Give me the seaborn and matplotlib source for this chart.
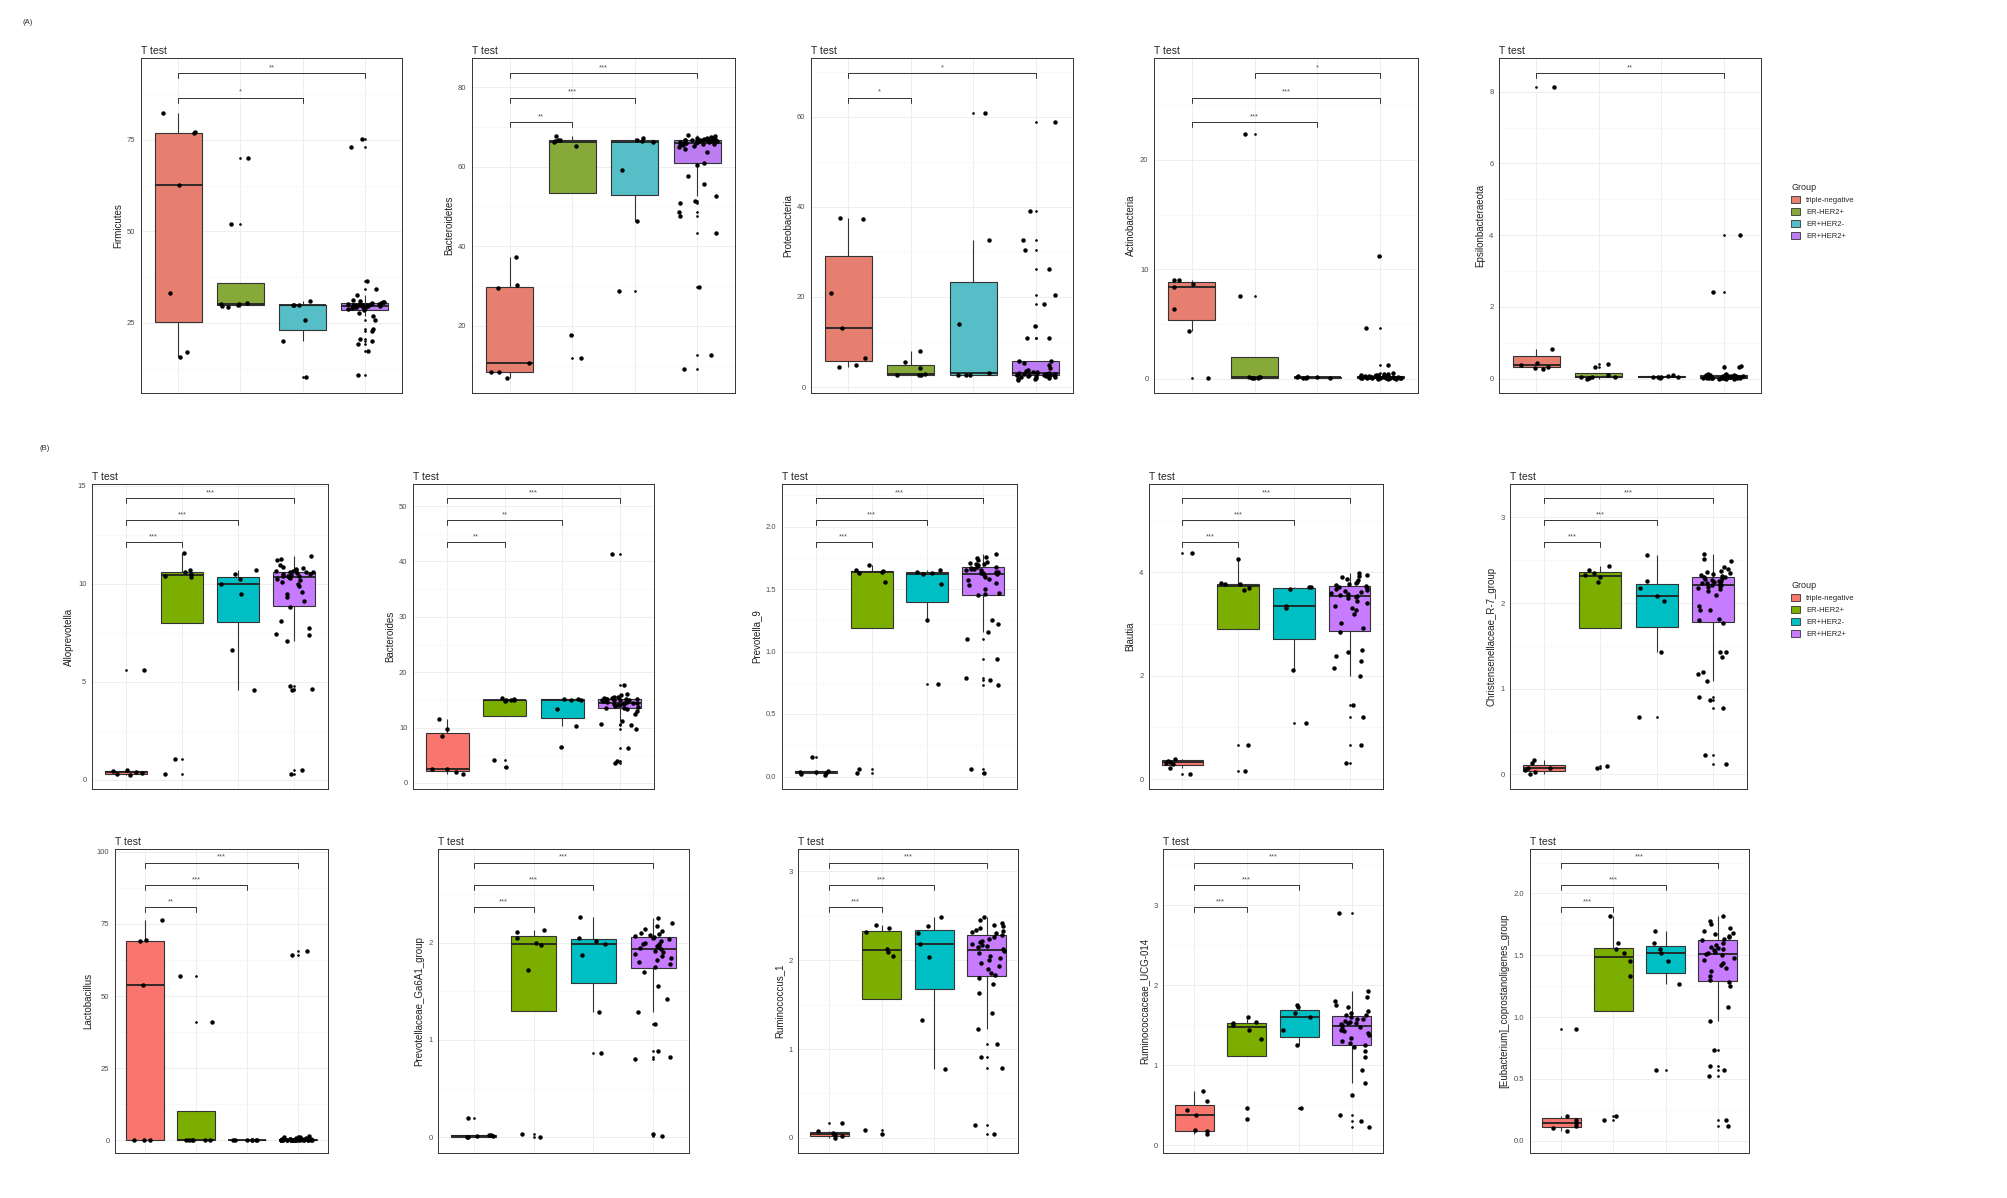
import numpy as np
import pandas as pd
import matplotlib
matplotlib.use('Agg')
import matplotlib.pyplot as plt
from matplotlib.patches import Patch
from matplotlib.ticker import AutoMinorLocator
import seaborn as sns

groups = ['triple-negative', 'ER-HER2+', 'ER+HER2-', 'ER+HER2+']

# (A) Phylum-Ebene: je Taxon (triple-negative, ER-HER2+, ER+HER2-, ER+HER2+)
firmicutes = (
    [15.6, 17.1, 33.2, 62.7, 76.8, 77.0, 82.3],
    [29.5, 29.7, 29.9, 30.1, 30.3, 30.5, 52.1, 70.0],
    [10.2, 20.2, 25.9, 29.9, 29.9, 30.0, 30.9],
    [75.3, 73.1, 36.4, 34.4, 32.7, 31.2, 30.9, 30.8, 30.6, 30.5, 30.4, 30.3, 30.3, 30.2,
     30.1, 30.0, 30.0, 29.9, 29.9, 29.8, 29.8, 29.7, 29.7, 29.6, 29.6, 29.5, 29.5, 29.4,
     29.3, 29.2, 29.0, 28.8, 28.5, 27.6, 26.8, 25.7, 23.4, 22.7, 20.6, 20.2, 19.3, 17.3, 10.9])
bacteroidetes = (
    [6.9, 8.4, 8.4, 10.7, 29.4, 30.3, 37.2],
    [11.9, 17.8, 65.3, 66.2, 66.4, 66.6, 66.8, 67.6],
    [28.7, 46.4, 59.2, 66.1, 66.4, 66.8, 67.2],
    [68.0, 67.6, 67.4, 67.3, 67.2, 67.1, 67.0, 66.9, 66.9, 66.8, 66.8, 66.7, 66.7, 66.6,
     66.6, 66.5, 66.5, 66.4, 66.4, 66.3, 66.3, 66.2, 66.2, 66.1, 66.0, 66.0, 65.9, 65.8,
     65.7, 65.6, 65.4, 65.2, 65.0, 64.5, 63.7, 61.0, 60.3, 57.7, 55.6, 52.5, 51.3, 50.8,
     48.7, 47.5, 43.3, 29.8, 12.6, 9.2])
proteobacteria = (
    [4.4, 5.0, 6.4, 13.2, 20.9, 37.3, 37.6],
    [2.6, 2.6, 2.7, 2.9, 4.2, 5.6, 8.0],
    [2.6, 2.6, 2.6, 3.1, 14.1, 32.7, 60.7],
    [58.9, 39.0, 32.7, 30.4, 26.1, 20.5, 18.4, 13.5, 11.0, 11.0, 5.9, 5.8, 5.4, 4.8, 4.2,
     3.8, 3.5, 3.4, 3.3, 3.2, 3.1, 3.1, 3.0, 3.0, 2.9, 2.9, 2.8, 2.8, 2.7, 2.7, 2.6, 2.6,
     2.5, 2.5, 2.4, 2.3, 2.2, 2.1, 2.0, 1.9, 1.8, 1.6])
actinobacteria = (
    [0.06, 4.4, 6.4, 8.4, 8.7, 9.0, 9.0],
    [0.05, 0.06, 0.1, 0.12, 0.15, 0.16, 7.6, 22.4],
    [0.05, 0.08, 0.1, 0.12, 0.14, 0.2, 0.25],
    [11.2, 4.6, 1.3, 0.55, 0.45, 0.4, 0.35, 0.3, 0.3, 0.28, 0.25, 0.25, 0.22, 0.2, 0.2,
     0.2, 0.18, 0.18, 0.17, 0.15, 0.15, 0.15, 0.14, 0.13, 0.12, 0.12, 0.11, 0.1, 0.1, 0.1,
     0.09, 0.08, 0.08, 0.07, 0.06, 0.05, 0.05, 0.04, 0.03, 0.02, 0.02, 0.01])
epsilonbacteraeota = (
    [0.28, 0.30, 0.33, 0.37, 0.45, 0.84, 8.12],
    [0.0, 0.02, 0.04, 0.05, 0.06, 0.09, 0.33, 0.42],
    [0.02, 0.04, 0.05, 0.05, 0.06, 0.08, 0.1],
    [4.0, 2.42, 0.34, 0.33, 0.32, 0.13, 0.12, 0.11, 0.1, 0.1, 0.09, 0.09, 0.08, 0.08, 0.07,
     0.07, 0.07, 0.06, 0.06, 0.06, 0.05, 0.05, 0.05, 0.05, 0.04, 0.04, 0.04, 0.04, 0.03,
     0.03, 0.03, 0.03, 0.02, 0.02, 0.02, 0.02, 0.01, 0.01, 0.01, 0.0, 0.0, 0.0])

# (B) Gattungs-Ebene
alloprevotella = (
    [0.25, 0.27, 0.33, 0.38, 0.44, 0.48, 5.6],
    [0.3, 1.05, 10.35, 10.4, 10.5, 10.6, 10.7, 11.6],
    [4.6, 6.6, 9.5, 10.0, 10.24, 10.5, 10.7],
    [11.4, 11.26, 11.2, 10.97, 10.85, 10.8, 10.75, 10.7, 10.68, 10.65, 10.62, 10.6, 10.58,
     10.55, 10.5, 10.48, 10.45, 10.42, 10.4, 10.38, 10.35, 10.3, 10.25, 10.2, 10.1, 10.0,
     9.9, 9.56, 9.5, 9.35, 9.1, 8.8, 8.08, 7.74, 7.45, 7.4, 7.06, 4.76, 4.63, 4.6, 0.51, 0.29])
bacteroides = (
    [1.6, 1.9, 2.5, 2.6, 8.4, 9.7, 11.6],
    [2.8, 4.2, 14.8, 14.95, 15.0, 15.05, 15.1, 15.4],
    [6.4, 10.2, 13.3, 15.0, 15.05, 15.1, 15.2],
    [41.4, 17.7, 16.0, 15.8, 15.6, 15.5, 15.4, 15.3, 15.2, 15.2, 15.1, 15.1, 15.0, 15.0,
     14.9, 14.9, 14.8, 14.7, 14.6, 14.5, 14.5, 14.4, 14.3, 14.2, 14.1, 14.0, 13.9, 13.8,
     13.6, 13.5, 13.3, 13.0, 12.4, 11.2, 10.7, 10.4, 9.7, 6.3, 3.9, 3.6])
prevotella_9 = (
    [0.01, 0.02, 0.03, 0.035, 0.04, 0.045, 0.16],
    [0.03, 0.06, 1.56, 1.63, 1.64, 1.645, 1.65, 1.69],
    [0.74, 1.25, 1.54, 1.62, 1.63, 1.635, 1.65],
    [1.78, 1.76, 1.75, 1.73, 1.72, 1.71, 1.7, 1.7, 1.69, 1.68, 1.68, 1.67, 1.66, 1.66,
     1.65, 1.65, 1.64, 1.64, 1.63, 1.63, 1.62, 1.61, 1.6, 1.58, 1.57, 1.55, 1.53, 1.5,
     1.47, 1.46, 1.45, 1.25, 1.22, 1.16, 1.10, 0.94, 0.79, 0.77, 0.73, 0.06, 0.03])
blautia = (
    [0.10, 0.21, 0.30, 0.32, 0.33, 0.35, 0.40, 4.37],
    [0.15, 0.67, 3.66, 3.69, 3.77, 3.78, 3.80, 4.25],
    [1.09, 2.11, 3.31, 3.35, 3.68, 3.72, 3.72],
    [3.98, 3.95, 3.93, 3.91, 3.88, 3.85, 3.82, 3.79, 3.77, 3.75, 3.73, 3.72, 3.7, 3.68,
     3.66, 3.64, 3.62, 3.6, 3.58, 3.56, 3.55, 3.53, 3.5, 3.45, 3.4, 3.35, 3.32, 3.28, 3.2,
     3.02, 2.92, 2.84, 2.5, 2.46, 2.38, 2.29, 2.15, 1.99, 1.43, 1.21, 0.66, 0.32])
christensenellaceae = (
    [0.0, 0.03, 0.05, 0.07, 0.08, 0.13, 0.17],
    [0.08, 0.10, 2.25, 2.30, 2.33, 2.35, 2.39, 2.43],
    [0.67, 1.43, 2.02, 2.08, 2.18, 2.26, 2.56],
    [2.57, 2.52, 2.49, 2.42, 2.40, 2.38, 2.36, 2.35, 2.34, 2.33, 2.32, 2.31, 2.30, 2.29,
     2.28, 2.27, 2.26, 2.26, 2.25, 2.24, 2.23, 2.22, 2.21, 2.21, 2.2, 2.19, 2.18, 2.16,
     2.14, 2.1, 1.97, 1.92, 1.92, 1.82, 1.8, 1.77, 1.43, 1.43, 1.37, 1.20, 1.17, 1.09,
     0.90, 0.87, 0.78, 0.23, 0.12])
lactobacillus = (
    [0.0, 0.0, 0.0, 54.0, 69.0, 69.3, 76.4],
    [0.0, 0.0, 0.0, 0.0, 0.0, 0.1, 41.0, 57.0],
    [0.0, 0.0, 0.0, 0.0, 0.0, 0.0, 0.0],
    [65.8, 64.4, 1.5, 1.2, 1.0, 0.9, 0.8, 0.7, 0.6, 0.5, 0.5, 0.4, 0.4, 0.3, 0.3, 0.3, 0.2,
     0.2, 0.2, 0.2, 0.1, 0.1, 0.1, 0.1, 0.1, 0.05, 0.05, 0.05, 0.05, 0.0, 0.0, 0.0, 0.0,
     0.0, 0.0, 0.0, 0.0, 0.0, 0.0, 0.0])
prevotellaceae_ga6a1 = (
    [0.0, 0.0, 0.01, 0.01, 0.02, 0.02, 0.2],
    [0.0, 0.04, 1.72, 1.97, 2.0, 2.05, 2.11, 2.13],
    [0.87, 1.29, 1.87, 1.99, 2.02, 2.05, 2.26],
    [2.25, 2.2, 2.17, 2.14, 2.12, 2.1, 2.09, 2.08, 2.07, 2.06, 2.05, 2.04, 2.02, 2.0, 1.99,
     1.98, 1.97, 1.96, 1.95, 1.94, 1.93, 1.91, 1.9, 1.88, 1.86, 1.84, 1.82, 1.8, 1.78, 1.75,
     1.7, 1.55, 1.42, 1.29, 1.16, 0.89, 0.83, 0.8, 0.03, 0.01])
ruminococcus_1 = (
    [0.0, 0.02, 0.03, 0.04, 0.06, 0.08, 0.17],
    [0.04, 0.09, 2.05, 2.09, 2.13, 2.32, 2.36, 2.4],
    [0.77, 1.33, 2.03, 2.18, 2.30, 2.38, 2.48],
    [2.48, 2.45, 2.42, 2.4, 2.38, 2.36, 2.34, 2.33, 2.32, 2.3, 2.28, 2.26, 2.24, 2.22, 2.2,
     2.18, 2.17, 2.16, 2.15, 2.13, 2.1, 2.08, 2.05, 2.02, 2.0, 1.97, 1.93, 1.9, 1.86, 1.83,
     1.8, 1.73, 1.63, 1.41, 1.23, 1.06, 0.91, 0.79, 0.14, 0.04])
ruminococcaceae_ucg014 = (
    [0.14, 0.17, 0.19, 0.38, 0.44, 0.55, 0.67],
    [0.33, 0.46, 1.33, 1.44, 1.5, 1.52, 1.54, 1.6],
    [0.46, 1.25, 1.44, 1.6, 1.65, 1.72, 1.75],
    [2.9, 1.92, 1.85, 1.8, 1.75, 1.72, 1.68, 1.65, 1.63, 1.62, 1.6, 1.58, 1.57, 1.55, 1.54,
     1.53, 1.52, 1.51, 1.5, 1.48, 1.46, 1.44, 1.42, 1.4, 1.37, 1.34, 1.3, 1.27, 1.25, 1.22,
     1.18, 1.1, 0.94, 0.78, 0.62, 0.38, 0.3, 0.22])
eubacterium_copro = (
    [0.08, 0.1, 0.12, 0.14, 0.17, 0.2, 0.9],
    [0.17, 0.2, 1.33, 1.45, 1.52, 1.55, 1.6, 1.82],
    [0.57, 1.27, 1.45, 1.52, 1.55, 1.6, 1.7],
    [1.82, 1.78, 1.75, 1.72, 1.7, 1.68, 1.67, 1.66, 1.65, 1.63, 1.62, 1.6, 1.58, 1.57, 1.56,
     1.55, 1.54, 1.53, 1.52, 1.51, 1.5, 1.48, 1.46, 1.44, 1.42, 1.4, 1.37, 1.33, 1.3, 1.28,
     1.25, 1.08, 0.97, 0.73, 0.6, 0.57, 0.52, 0.17, 0.12])

# Signifikanz (Gruppe a, Gruppe b, Label), oberste Klammer zuerst
all3 = [(0, 3, '***'), (0, 2, '***'), (0, 1, '***')]

pal_a = ['#E67F70', '#86A93A', '#55BEC6', '#BC7CF2']
pal_b = ['#F8766D', '#7CAE00', '#00BFC4', '#C77CFF']

W, H = 2008, 1198

def rect(x0, x1, y0, y1):
    return [x0 / W, 1 - y1 / H, (x1 - x0) / W, (y1 - y0) / H]

# (Name, Daten, Signifikanz, ylim, yticks, Achsen-Rechteck in px, Palette)
panels = [
    ('Firmicutes', firmicutes, [(0, 3, '**'), (0, 2, '*')], (5.9, 97.3), [25, 50, 75], rect(141, 402, 58, 393), pal_a),
    ('Bacteroidetes', bacteroidetes, [(0, 3, '***'), (0, 2, '***'), (0, 1, '**')], (3.1, 87.3), [20, 40, 60, 80], rect(472, 735, 58, 393), pal_a),
    ('Proteobacteria', proteobacteria, [(0, 3, '*'), (0, 1, '*')], (-1.3, 73), [0, 20, 40, 60], rect(811, 1073, 58, 393), pal_a),
    ('Actinobacteria', actinobacteria, [(1, 3, '*'), (0, 3, '***'), (0, 2, '***')], (-1.3, 29.3), [0, 10, 20], rect(1154, 1418, 58, 393), pal_a),
    ('Epsilonbacteraeota', epsilonbacteraeota, [(0, 3, '**')], (-0.4, 8.94), [0, 2, 4, 6, 8], rect(1499, 1761, 58, 393), pal_a),
    ('Alloprevotella', alloprevotella, all3, (-0.48, 15.1), [0, 5, 10, 15], rect(92, 328, 484, 789), pal_b),
    ('Bacteroides', bacteroides, [(0, 3, '***'), (0, 2, '**'), (0, 1, '**')], (-1.1, 54), [0, 10, 20, 30, 40, 50], rect(413, 654, 484, 789), pal_b),
    ('Prevotella_9', prevotella_9, all3, (-0.1, 2.34), [0, 0.5, 1.0, 1.5, 2.0], rect(782, 1017, 484, 789), pal_b),
    ('Blautia', blautia, all3, (-0.19, 5.71), [0, 2, 4], rect(1149, 1383, 484, 789), pal_b),
    ('Christensenellaceae_R-7_group', christensenellaceae, all3, (-0.17, 3.39), [0, 1, 2, 3], rect(1510, 1747, 484, 789), pal_b),
    ('Lactobacillus', lactobacillus, [(0, 3, '***'), (0, 2, '***'), (0, 1, '**')], (-4.4, 101), [0, 25, 50, 75, 100], rect(115, 328, 849, 1153), pal_b),
    ('Prevotellaceae_Ga6A1_group', prevotellaceae_ga6a1, all3, (-0.16, 2.96), [0, 1, 2], rect(438, 689, 849, 1153), pal_b),
    ('Ruminococcus_1', ruminococcus_1, all3, (-0.17, 3.25), [0, 1, 2, 3], rect(798, 1018, 849, 1153), pal_b),
    ('Ruminococcaceae_UCG-014', ruminococcaceae_ucg014, all3, (-0.1, 3.7), [0, 1, 2, 3], rect(1163, 1383, 849, 1153), pal_b),
    ('[Eubacterium]_coprostanoligenes_group', eubacterium_copro, all3, (-0.1, 2.36), [0, 0.5, 1.0, 1.5, 2.0], rect(1530, 1749, 849, 1153), pal_b),
]

sns.set_style('white')
plt.rcParams['font.family'] = ['Liberation Sans', 'DejaVu Sans']

fig = plt.figure(figsize=(W / 100, H / 100), dpi=100)
np.random.seed(3)

for name, vals, sig, ylim, yticks, r, pal in panels:
    df = pd.DataFrame({
        'group': np.concatenate([[g] * len(v) for g, v in zip(groups, vals)]),
        'value': np.concatenate([np.asarray(v, float) for v in vals]),
    })
    ax = fig.add_axes(r)
    ax.set_axisbelow(True)
    sns.boxplot(data=df, x='group', y='value', hue='group', order=groups, hue_order=groups,
                palette=pal, saturation=1, width=0.75, linecolor='#333333', linewidth=0.8,
                fliersize=0.9, showcaps=False, legend=False, ax=ax,
                medianprops={'linewidth': 1.3, 'color': '#222222'},
                flierprops={'marker': 'o', 'markerfacecolor': 'black', 'markeredgecolor': 'black'})
    sns.stripplot(data=df, x='group', y='value', order=groups, color='black', size=3.2,
                  jitter=0.33, zorder=4, ax=ax)

    # Signifikanzklammern
    tr = ax.get_xaxis_transform()
    for i, (a, b, lab) in enumerate(sig):
        h = 0.955 - 0.073 * i
        ax.plot([a, a, b, b], [h - 0.016, h, h, h - 0.016], color='#333333', lw=0.7, transform=tr)
        ax.text((a + b) / 2, h + 0.006, lab, transform=tr, ha='center', va='bottom',
                fontsize=5.5, color='#555555')

    ax.set_xlim(-0.6, 3.6)
    ax.set_ylim(*ylim)
    ax.set_yticks(yticks)
    ax.yaxis.set_minor_locator(AutoMinorLocator(2))
    ax.grid(True, which='major', color='#EBEBEB', lw=0.6)
    ax.grid(True, which='minor', axis='y', color='#F4F4F4', lw=0.4)
    ax.set_xticks(range(4))
    ax.set_xticklabels([])
    ax.set_xlabel('')
    ax.set_ylabel(name, fontsize=7, color='#222222', labelpad=3)
    ax.set_title('T test', loc='left', fontsize=7.5, pad=3)
    ax.tick_params(axis='both', which='major', length=2.5, width=0.6, color='#333333',
                   labelsize=5.5, labelcolor='#4D4D4D', pad=1.5)
    ax.tick_params(axis='y', which='minor', length=0)
    for s in ax.spines.values():
        s.set_color('#333333')
        s.set_linewidth(0.7)

for pal, y in [(pal_a, 180), (pal_b, 578)]:
    handles = [Patch(facecolor=c, edgecolor='#333333', linewidth=0.6) for c in pal]
    fig.legend(handles, groups, title='Group', loc='upper left',
               bbox_to_anchor=(1788 / W, 1 - y / H), frameon=False, fontsize=5.5,
               title_fontsize=6.5, handlelength=1.2, handleheight=0.9, labelspacing=0.55,
               alignment='left', borderaxespad=0)

fig.text(23 / W, 1 - 22 / H, '(A)', fontsize=5.5, va='center')
fig.text(40 / W, 1 - 448 / H, '(B)', fontsize=5.5, va='center')

fig.savefig('out.png', dpi=100, facecolor='white')
